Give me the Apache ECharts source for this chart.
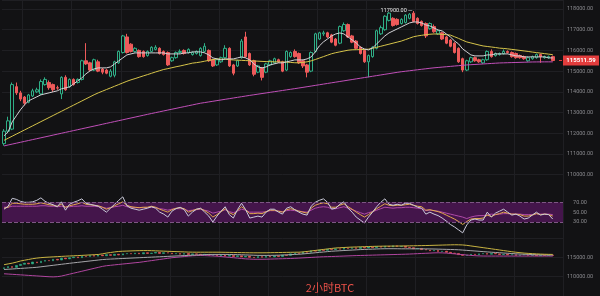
<!DOCTYPE html>
<html><head><meta charset="utf-8">
<script src="https://cdn.jsdelivr.net/npm/echarts@6/dist/echarts.min.js"></script>
<style>html,body{margin:0;padding:0;background:#121214;overflow:hidden}#c{width:600px;height:296px}</style>
</head><body><div id="c"></div><script>
// ---------- DATA ----------
// main 2h candles: [open, close, low, high]
const candles = [
[111500,112100,111400,112200],[112100,112600,112000,112800],[112200,114350,112150,114450],[114250,113950,113850,114450],[113950,113650,113550,114050],
[113750,113450,113350,113800],[113500,113850,113450,113900],[113800,114050,113750,114150],[114000,114100,113950,114200],[113900,114500,113850,114600],
[114350,114600,114300,114700],[114450,114200,114100,114550],[114350,114100,114000,114400],[114200,114180,114100,114300],[113900,114700,113650,114750],
[114700,114100,114050,114800],[114250,114600,114200,114650],[114600,114350,114300,114650],[114450,114600,114400,114650],[114600,115500,114550,115550],
[115500,115350,115300,116350],[115400,115050,115000,115450],[115050,115550,115000,115600],[115450,115000,114950,115550],[115100,114950,114850,115150],
[115050,114900,114850,115100],[114750,115000,114700,115100],[114800,115450,114700,115500],[115400,115950,115350,116000],[115900,116700,115850,116750],
[116650,115900,115850,116800],[116300,115950,115900,116350],[115950,116100,115900,116150],[116000,115700,115650,116050],[115950,115700,115650,116000],
[115750,115950,115700,116000],[115950,116150,115900,116200],[116050,116150,116000,116250],[116100,115850,115800,116150],[115950,115800,115750,116000],
[115900,115300,115250,115950],[115500,115650,115450,115700],[115650,115900,115600,115950],[115900,115950,115850,116050],[116000,115850,115800,116050],
[115900,116050,115850,116100],[115800,115900,115750,115950],[115850,115950,115800,116000],[115750,116100,115700,116150],[115950,116200,115900,116350],
[116000,115500,115450,116050],[115550,115250,115200,115600],[115300,115550,115250,115600],[115450,115650,115400,115700],[115650,116100,115600,116250],
[116100,115250,115200,116150],[115300,114900,114800,115350],[115250,115500,115200,115550],[115650,116450,115600,116550],[116650,115700,115650,116900],
[115850,115300,115250,115900],[115500,114850,114750,115550],[114950,115250,114900,115300],[115150,114700,114550,115200],[114950,115350,114900,115400],
[115300,115500,115250,115550],[115400,115600,115350,115650],[115550,115450,115400,115600],[115450,115000,114950,115500],[115050,115950,115000,116000],
[115700,115900,115650,115950],[115950,115700,115650,116050],[115850,115400,115350,115900],[115500,115250,115150,115550],[115300,114950,114700,115350],
[115000,115900,114950,115950],[115950,116800,115900,116850],[116550,116850,116500,116900],[116800,116850,116700,116950],[116850,116650,116600,116900],
[116750,116400,116350,116800],[116550,116250,116200,116600],[116350,117150,116300,117200],[116950,117250,116900,117350],[117250,116650,116600,117300],
[116700,116400,116350,116750],[116450,116100,116050,116500],[116150,115850,115800,116200],[116000,115450,115400,116050],[115450,115750,114700,115800],
[115700,116150,115650,116200],[116100,116950,116050,117000],[116800,117100,116750,117200],[117000,117650,116950,117700],[117450,117800,117400,117850],
[117550,117200,117150,117600],[117500,117250,117200,117550],[117300,117500,117250,117550],[117350,117700,117300,117750],[117550,117750,117500,117800],
[117800,117400,117350,117900],[117550,117300,117250,117600],[117400,117200,117150,117450],[117300,116700,116600,117350],[117050,117300,117000,117350],
[117150,116900,116850,117250],[116800,116950,116750,117000],[116850,116550,116500,116900],[116650,116350,116300,116700],[116500,116200,116150,116550],
[116350,115900,115850,116400],[116100,115450,115400,116150],[115600,115050,114950,115650],[115050,115500,115000,115550],[115450,115650,115400,115700],
[115650,115500,115450,115700],[115550,115450,115400,115600],[115400,115550,115350,115600],[115550,115950,115500,116000],[115950,115700,115650,116050],
[115750,115850,115700,115900],[115800,115850,115750,115900],[115850,115950,115800,116050],[115950,115900,115850,116000],[115900,115700,115650,115950],
[115850,115650,115600,115900],[115750,115650,115600,115800],[115700,115600,115550,115750],[115500,115650,115450,115700],[115600,115700,115550,115750],
[115650,115800,115600,115850],[115800,115700,115400,115850],[115650,115700,115600,115750],[115650,115700,115600,115750],[115700,115511.59,115480,115750]
];
const maWhite = [
111880,112073,112554,112843,113133,113374,113566,113663,113759,113855,
113904,113952,114000,114048,114145,114193,114241,114386,114530,114675,
114868,115012,115108,115157,115157,115157,115205,115350,115494,115639,
115783,115831,115880,115880,115880,115880,115880,115880,115880,115880,
115831,115831,115831,115831,115880,115880,115928,115928,115928,115880,
115783,115639,115590,115542,115590,115590,115590,115639,115687,115639,
115542,115350,115205,115157,115205,115301,115350,115398,115398,115446,
115494,115542,115542,115542,115590,115687,115928,116217,116410,116554,
116699,116795,116843,116795,116651,116506,116361,116169,116072,116024,
116121,116313,116506,116699,116843,116940,117036,117133,117229,117325,
117373,117373,117325,117229,117181,117084,116988,116940,116795,116651,
116458,116313,116072,115928,115783,115735,115735,115735,115783,115783,
115831,115831,115831,115831,115783,115735,115735,115687,115687,115687,
115687,115687,115687,115639,115639];
const maYellow = [
111660,111760,111860,111960,112060,112160,112260,112360,112460,112560,
112660,112760,112860,112960,113060,113160,113260,113360,113460,113560,
113660,113760,113860,113950,114030,114110,114190,114270,114350,114430,
114510,114580,114640,114705,114770,114830,114895,114960,115020,115080,
115120,115165,115210,115250,115295,115340,115385,115410,115440,115480,
115520,115555,115590,115580,115570,115555,115540,115530,115520,115510,
115500,115490,115480,115470,115460,115455,115450,115445,115440,115435,
115420,115405,115400,115420,115450,115495,115560,115630,115700,115770,
115840,115890,115930,115970,116010,116030,116035,116040,116045,116060,
116105,116150,116200,116250,116300,116350,116400,116450,116520,116590,
116660,116700,116730,116760,116780,116795,116790,116775,116760,116740,
116660,116580,116490,116410,116360,116310,116260,116215,116190,116165,
116140,116110,116095,116075,116050,116025,116000,115975,115950,115920,
115895,115870,115845,115820,115795];
const maPurple = [
111390,111435,111478,111521,111565,111608,111652,111695,111738,111782,
111825,111868,111913,111956,112000,112043,112087,112130,112173,112217,
112260,112304,112347,112390,112434,112478,112521,112565,112608,112651,
112695,112738,112781,112825,112868,112912,112954,112996,113037,113079,
113120,113162,113203,113245,113286,113328,113369,113411,113451,113482,
113514,113545,113577,113608,113640,113671,113703,113734,113766,113797,
113829,113858,113888,113918,113947,113977,114007,114036,114066,114096,
114125,114155,114185,114216,114248,114279,114311,114342,114374,114405,
114437,114468,114500,114531,114563,114594,114626,114657,114689,114720,
114752,114784,114815,114847,114878,114910,114942,114970,114994,115018,
115042,115066,115090,115114,115138,115160,115177,115194,115212,115229,
115247,115264,115281,115299,115310,115322,115334,115346,115358,115370,
115382,115394,115400,115406,115412,115418,115424,115430,115436,115442,
115444,115446,115447,115448,115448];
const rsiWhite = [
56,62,78,76,72,70,70,71,74,79, 72,68,65,61,71,54,66,70,73,77,
68,66,64,62,56,50,58,66,74,81, 63,58,56,54,56,58,61,58,50,46,
40,52,57,60,55,42,50,56,58,50, 42,30,42,52,61,45,38,55,68,55,
38,40,42,40,50,56,56,50,46,58, 61,55,50,46,44,62,70,74,77,70,
56,58,66,71,58,50,40,34,28,40, 50,61,70,77,66,64,66,64,68,68,
64,60,58,46,50,46,43,38,32,25, 20,14,8,24,34,36,34,34,50,40,
48,52,56,50,44,46,42,36,38,44, 50,44,46,45,36];
const rsiYellow = [
58,60,68,68,67,66,66,66,67,69, 67,65,64,62,66,60,63,65,67,70,
66,65,64,63,60,56,59,63,67,71, 64,61,60,59,60,60,62,60,56,53,
50,55,58,59,57,50,53,56,57,53, 48,40,45,51,57,49,45,53,61,55,
47,47,48,47,51,54,54,52,50,55, 57,55,52,50,48,58,64,67,69,67,
60,60,64,67,61,56,50,45,40,45, 51,57,62,67,64,63,64,64,65,66,
64,62,61,54,55,53,51,48,44,40, 36,31,25,31,36,37,37,38,44,41,
45,47,50,48,46,46,45,42,42,44, 47,45,46,45,42];
const rsiPurple = [
60,60,62,62,62,62,62,62,62,63, 63,62,62,61,62,60,61,62,62,63,
62,62,62,61,60,58,59,61,62,64, 61,60,59,59,59,59,60,59,57,56,
54,56,57,57,56,53,54,55,56,54, 52,48,50,52,55,51,49,52,56,54,
50,50,50,50,51,53,53,52,51,53, 54,53,52,51,50,54,58,60,61,60,
57,57,59,61,58,55,52,49,46,49, 51,54,57,60,59,58,59,59,60,60,
59,58,57,53,54,53,52,50,48,46, 44,42,40,37,40,42,43,43,44,46,
45,46,47,47,46,46,46,45,45,45, 47,46,46,46,45];
// overview panel (bottom)
const miniClose = [
112300,112600,112400,112900,113200,113500,113300,113800,113600,114000,
114200,114100,114500,114300,114800,114600,114900,115100,114900,115300,
115200,115500,115300,115600,115400,115700,115500,115800,115600,115900,
116000,115900,116100,115900,116200,116000,116100,116300,116000,116200,
116100,115900,116000,115800,116000,115700,115900,115800,115600,115800,
115500,115700,115400,115600,115300,115500,115200,115400,115100,115300,
115000,114900,115200,115000,115300,115100,115400,115200,115600,115500,
115900,116100,116000,116400,116300,116700,116600,116900,116800,117100,
117000,117200,117100,117400,117300,117500,117300,117600,117400,117700,
117500,117800,117600,117900,117700,118000,117800,117900,117600,117500,
117200,117300,117000,116900,116700,116800,116500,116600,116300,116100,
116000,115700,115500,115600,115800,115700,115900,116000,115800,116000,
115900,115700,115800,115600,115700,115500,115600,115700,115500,115600,
115400,115600,115500,115600,115500];
const miniYellow = [
113100,113300,113500,113750,114050,114250,114450,114650,114800,114920,
115000,115060,115120,115180,115240,115300,115350,115400,115450,115500,
115560,115620,115680,115740,115900,116100,116250,116400,116520,116580,
116620,116660,116700,116730,116750,116750,116720,116680,116640,116600,
116560,116520,116480,116440,116400,116360,116340,116330,116330,116330,
116330,116330,116330,116320,116300,116280,116260,116240,116220,116200,
116180,116170,116170,116170,116180,116200,116220,116240,116260,116280,
116300,116320,116330,116400,116520,116650,116780,116910,117040,117170,
117300,117420,117480,117540,117600,117650,117680,117720,117760,117800,
117830,117860,117880,117900,117900,117910,117920,117930,117950,117970,
117990,118010,118030,118050,118080,118110,118140,118170,118200,118230,
118250,118240,118200,118100,117950,117800,117650,117500,117350,117200,
117050,116900,116750,116600,116450,116320,116200,116100,116020,115950,
115890,115840,115800,115770,115750];
const miniGray = [
111850,111920,111990,112060,112130,112200,112270,112340,112420,112550,
112680,112810,112940,113070,113200,113330,113460,113580,113700,113820,
113940,114060,114180,114300,114420,114500,114550,114600,114650,114700,
114750,114800,114850,114900,114950,115000,115050,115100,115150,115200,
115250,115300,115350,115400,115450,115500,115550,115600,115650,115700,
115740,115750,115750,115750,115750,115740,115720,115690,115660,115620,
115580,115540,115510,115500,115500,115510,115530,115560,115600,115650,
115700,115750,115800,115880,115980,116080,116180,116280,116380,116480,
116580,116640,116700,116760,116820,116880,116940,117000,117040,117080,
117120,117160,117200,117220,117230,117230,117220,117200,117200,117200,
117200,117200,117190,117180,117170,117150,117120,117090,117060,117030,
117000,116950,116880,116800,116720,116640,116560,116480,116400,116330,
116260,116190,116120,116050,115980,115910,115850,115800,115760,115720,
115690,115660,115630,115600,115580];
const miniPurple = [
110750,110680,110610,110540,110470,110400,110330,110260,110190,110120,
110050,109980,109940,110000,110150,110400,110650,110900,111150,111400,
111650,111900,112150,112400,112650,112830,112940,113050,113160,113270,
113380,113490,113600,113700,113850,114000,114150,114300,114450,114600,
114750,114900,115000,115100,115200,115300,115400,115450,115480,115450,
115400,115350,115300,115200,115100,115000,114900,114800,114700,114600,
114550,114500,114500,114500,114520,114550,114580,114610,114640,114670,
114700,114750,114800,114860,114920,114980,115040,115100,115150,115180,
115210,115250,115290,115330,115370,115410,115450,115480,115510,115540,
115570,115600,115630,115660,115690,115720,115750,115780,115810,115850,
115900,115950,116000,116050,116100,116150,116170,116150,116100,116000,
115900,115800,115700,115600,115500,115420,115370,115340,115330,115330,
115330,115330,115330,115330,115330,115330,115330,115330,115330,115330,
115330,115330,115330,115330,115330];
const priceAxis = {min:110000, step:1000};
const rsiLabels = [30,50,70];
const rsiBand = [30,70];
const miniLabels = [110000,115000];
const titleText = '2小时BTC';

// ---------- CHART ----------
const BG = '#121214', GRID = '#1f1f23', TXT = '#8a8a8e';
const UP = '#2fae86', DOWN = '#ee5a5a';
const N = candles.length + 2;
const categories = candles.map((_, i) => 'k' + i).concat(['p1', 'p2']);
const lastClose = candles[candles.length - 1][1];
let hiIdx = 0; candles.forEach((c, i) => { if (c[3] > candles[hiIdx][3]) hiIdx = i; });
const hiVal = candles[hiIdx][3];
const miniOHLC = miniClose.map((c, i) => { const o = i ? miniClose[i - 1] : c - 200; return [o, c, Math.min(o, c), Math.max(o, c)]; });

const L = 2, R = 37;
const lab = {color: TXT, fontSize: 5.5, fontFamily: 'Roboto', margin: 17, align: 'center'};
const xa = (g, split) => ({type: 'category', gridIndex: g, data: categories, boundaryGap: true,
  axisLine: {show: false}, axisTick: {show: false}, axisLabel: {show: false},
  splitLine: {show: split, interval: (i) => i % 12 === 5, lineStyle: {color: GRID, width: 1}}});
const line = (data, color, xi, yi, w) => ({type: 'line', data, xAxisIndex: xi, yAxisIndex: yi, showSymbol: false,
  symbol: 'none', smooth: false, lineStyle: {color, width: w || 1}, silent: true, animation: false});

const chart = echarts.init(document.getElementById('c'), null, {renderer: 'canvas'});
chart.setOption({
  backgroundColor: BG,
  animation: false,
  grid: [
    {left: L, right: R, top: 0, height: 174.7},
    {left: L, right: R, top: 187.5, height: 49.3},
    {left: L, right: R, top: 238, height: 60},
    {left: L, right: R, top: 0, height: 296}
  ],
  xAxis: [xa(0, false), xa(1, false), xa(2, false), xa(3, true)],
  yAxis: [
    {type: 'value', gridIndex: 0, position: 'right', min: priceAxis.min, max: 118000 + 9 / 20.75 * 1000, interval: priceAxis.step,
      axisLine: {show: false}, axisTick: {show: false},
      axisLabel: Object.assign({formatter: v => (v % 1000 === 0 ? v.toFixed(2) : '')}, lab),
      splitLine: {lineStyle: {color: GRID}}},
    {type: 'value', gridIndex: 1, position: 'right', min: 0, max: 100, interval: 10,
      axisLine: {show: false}, axisTick: {show: false},
      axisLabel: Object.assign({formatter: v => (rsiLabels.includes(v) ? v.toFixed(2) : '')}, lab),
      splitLine: {show: false}},
    {type: 'value', gridIndex: 2, position: 'right', min: 105000, max: 120000, interval: 5000,
      axisLine: {show: false}, axisTick: {show: false},
      axisLabel: Object.assign({formatter: v => (miniLabels.includes(v) ? v.toFixed(2) : '')}, lab),
      splitLine: {lineStyle: {color: GRID}}},
    {type: 'value', gridIndex: 3, show: false, min: 0, max: 1}
  ],
  series: [
    line(maPurple, '#c04fb8', 0, 0),
    line(maYellow, '#d6c44a', 0, 0),
    line(maWhite, '#d2d2d6', 0, 0),
    {type: 'candlestick', xAxisIndex: 0, yAxisIndex: 0, data: candles, barWidth: 3,
      itemStyle: {color: BG, color0: DOWN, borderColor: UP, borderColor0: DOWN, borderWidth: 1},
      markPoint: {symbol: 'circle', symbolSize: 1, itemStyle: {color: 'rgba(0,0,0,0)'}, silent: true,
        label: {show: true, position: 'left', distance: 1, color: '#e8e8e8', fontSize: 5.5, fontFamily: 'Roboto',
          formatter: () => hiVal.toFixed(2) + ' ─'},
        data: [{coord: [hiIdx, hiVal], value: hiVal}]}},
    Object.assign(line(rsiPurple, '#b04aa8', 1, 1), {
      markArea: {silent: true, itemStyle: {color: '#44154b'}, data: [[{yAxis: rsiBand[0]}, {yAxis: rsiBand[1]}]]},
      markLine: {silent: true, symbol: 'none', label: {show: false},
        lineStyle: {color: '#7d5684', type: 'dashed', width: 1}, data: [{yAxis: rsiBand[1]}, {yAxis: rsiBand[0]}]}}),
    line(rsiYellow, '#e2a94c', 1, 1),
    line(rsiWhite, '#c9c9d8', 1, 1),
    line(miniPurple, '#b0459f', 2, 2),
    line(miniGray, '#a6a6aa', 2, 2),
    line(miniYellow, '#c9b442', 2, 2),
    {type: 'candlestick', xAxisIndex: 2, yAxisIndex: 2, data: miniOHLC, barWidth: 2,
      itemStyle: {color: UP, color0: DOWN, borderColor: UP, borderColor0: DOWN, borderWidth: 0.6}}
  ]
});

const yPix = chart.convertToPixel({yAxisIndex: 0}, lastClose);
chart.setOption({graphic: [
  {type: 'rect', shape: {x: 563, y: yPix - 5, width: 36, height: 10}, style: {fill: '#e23c3c'}, z: 100},
  {type: 'rect', shape: {x: 559, y: yPix - 0.5, width: 3, height: 1}, style: {fill: '#e23c3c'}, z: 100},
  {type: 'text', x: 581, y: yPix, style: {text: lastClose.toFixed(2), align: 'center', verticalAlign: 'middle',
    fill: '#ffffff', font: 'bold 6px Roboto'}, z: 101},
  {type: 'text', x: 330, y: 288, style: {text: titleText, align: 'center', verticalAlign: 'middle',
    fill: '#ea5149', font: '11px "Noto Sans CJK SC"'}, z: 101}
]});
</script></body></html>
